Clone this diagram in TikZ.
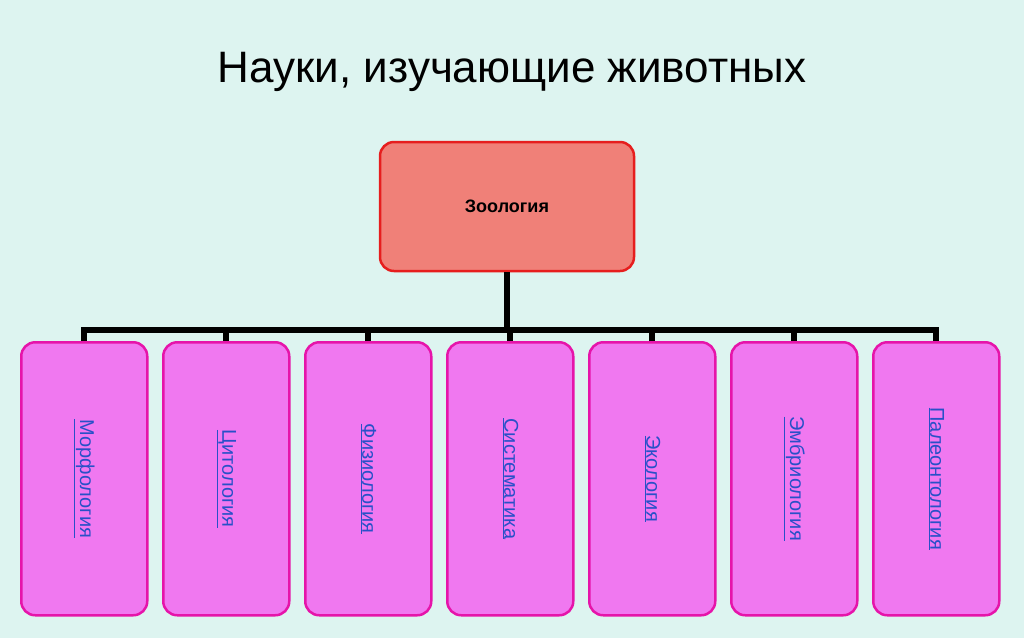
\documentclass[tikz,border=0pt]{standalone}
\usepackage{fontspec}
\setmainfont{Liberation Sans}
\definecolor{bg}{RGB}{221,244,240}
\definecolor{subd}{RGB}{230,20,170}
\definecolor{subf}{RGB}{240,120,240}
\definecolor{labc}{RGB}{40,80,200}
\definecolor{zd}{RGB}{230,30,30}
\definecolor{zf}{RGB}{240,128,120}
\begin{document}
\begin{tikzpicture}[x=1pt,y=-1pt,
 sub/.style={draw=subd,line width=2.5pt,fill=subf,rounded corners=14pt,minimum width=126pt,minimum height=273pt,anchor=north west},
 lab/.style={rotate=-90,text=labc,font=\fontsize{20}{24}\selectfont},
 bus/.style={line width=6pt}]
\fill[bg] (0,0) rectangle (1024,638);
\node (t) at (512,72) {\fontsize{44}{52}\selectfont Науки, изучающие животных};
\node[draw=zd,line width=2.5pt,fill=zf,rounded corners=14pt,minimum width=254pt,minimum height=129pt] (z) at (507,206.5) {\fontsize{18}{22}\selectfont\bfseries Зоология};
\coordinate (bus) at (507,330);
\foreach \i/\t in {0/Морфология,1/Цитология,2/Физиология,3/Систематика,4/Экология,5/Эмбриология,6/Палеонтология}{
 \node[sub] (s\i) at (20+142*\i,341) {};
 \node[lab] at (s\i.center) {\underline{\t}};
 \draw[bus] (s\i.north) -- (s\i.north |- bus);
}
\draw[bus] (z.south) -- (bus);
\draw[bus] ([xshift=-3pt]s0.north |- bus) -- ([xshift=3pt]s6.north |- bus);
\end{tikzpicture}
\end{document}
